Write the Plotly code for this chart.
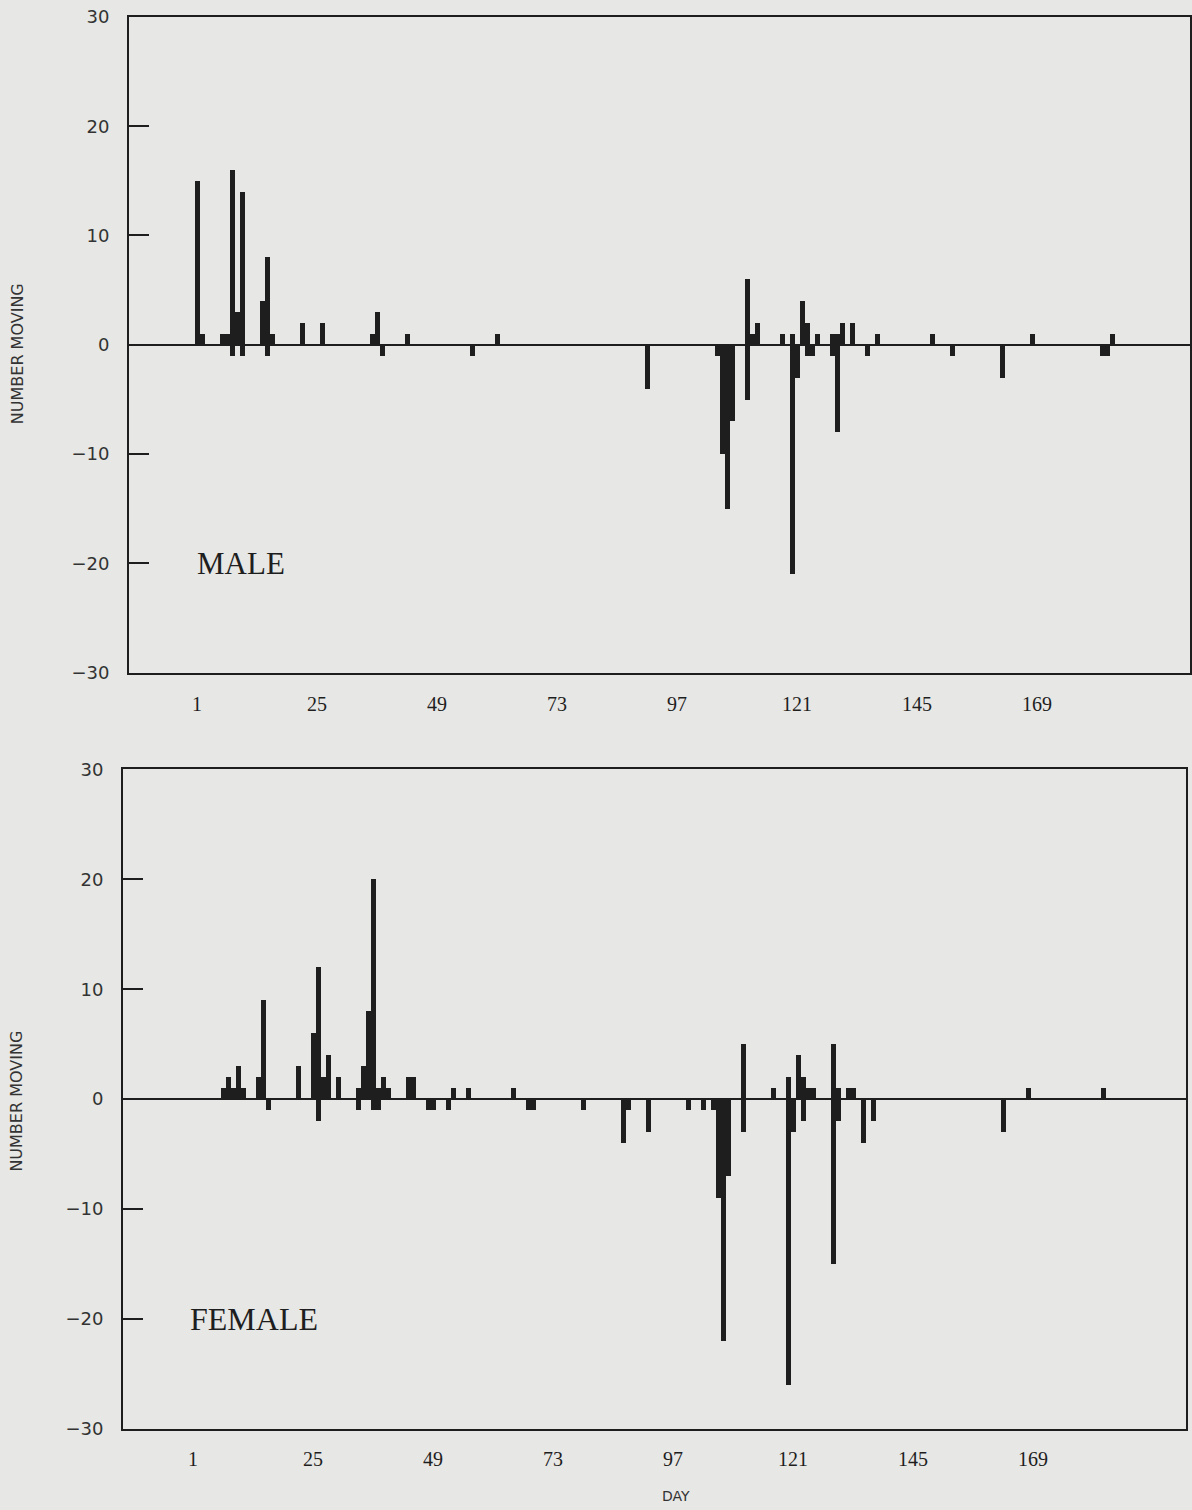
import plotly.graph_objects as go

# ---------------- data ----------------
day_ticks = [1, 25, 49, 73, 97, 121, 145, 169]
day_labels = ["1", "25", "49", "73", "97", "121", "145", "169"]
y_ticks = [-30, -20, -10, 0, 10, 20, 30]

male_pos_days = [1, 2, 6, 7, 8, 9, 10, 14, 15, 16, 22, 26, 36, 37, 43, 61,
                 111, 112, 113, 118, 120, 122, 123, 125, 128, 129, 130, 132,
                 137, 148, 168, 184]
male_pos_vals = [15, 1, 1, 1, 16, 3, 14, 4, 8, 1, 2, 2, 1, 3, 1, 1,
                 6, 1, 2, 1, 1, 4, 2, 1, 1, 1, 2, 2,
                 1, 1, 1, 1]
male_neg_days = [8, 10, 15, 38, 56, 91, 105, 106, 107, 108, 111, 120, 121,
                 123, 124, 128, 129, 135, 152, 162, 182, 183]
male_neg_vals = [-1, -1, -1, -1, -1, -4, -1, -10, -15, -7, -5, -21, -3,
                 -1, -1, -1, -8, -1, -1, -3, -1, -1]

female_pos_days = [7, 8, 9, 10, 11, 14, 15, 22, 25, 26, 27, 28, 30, 34, 35,
                   36, 37, 38, 39, 40, 44, 45, 53, 56, 65, 111, 117, 120,
                   122, 123, 124, 125, 129, 130, 132, 133, 168, 183]
female_pos_vals = [1, 2, 1, 3, 1, 2, 9, 3, 6, 12, 2, 4, 2, 1, 3,
                   8, 20, 1, 2, 1, 2, 2, 1, 1, 1, 5, 1, 2,
                   4, 2, 1, 1, 5, 1, 1, 1, 1, 1]
female_neg_days = [16, 26, 34, 37, 38, 48, 49, 52, 68, 69, 79, 87, 88, 92,
                   100, 103, 105, 106, 107, 108, 111, 120, 121, 123, 129,
                   130, 135, 137, 163]
female_neg_vals = [-1, -2, -1, -1, -1, -1, -1, -1, -1, -1, -1, -4, -1, -3,
                   -1, -1, -1, -9, -22, -7, -3, -26, -3, -2, -15,
                   -2, -4, -2, -3]

# ---------------- styling ----------------
BG = "#e7e7e5"
INK = "#1e1e1e"
W, H = 1192, 1510

fig = go.Figure()

def add_bars(xs, ys, xa, ya):
    fig.add_trace(go.Bar(x=xs, y=ys, width=1, marker=dict(color=INK, line=dict(width=0)),
                         xaxis=xa, yaxis=ya, showlegend=False))

add_bars(male_pos_days, male_pos_vals, "x", "y")
add_bars(male_neg_days, male_neg_vals, "x", "y")
add_bars(female_pos_days, female_pos_vals, "x2", "y2")
add_bars(female_neg_days, female_neg_vals, "x2", "y2")

def xax(standoff):
    return dict(showline=True, mirror=True, linecolor=INK, linewidth=2,
                showgrid=False, zeroline=False, ticks="",
                tickmode="array", tickvals=day_ticks, ticktext=day_labels,
                tickfont=dict(family="Liberation Serif", size=20, color=INK),
                ticklabelstandoff=standoff)

ycommon = dict(showline=True, mirror=True, linecolor=INK, linewidth=2,
               showgrid=False, zeroline=True, zerolinecolor=INK, zerolinewidth=2,
               ticks="inside", ticklen=20, tickwidth=2, tickcolor=INK,
               tickmode="array", tickvals=y_ticks, range=[-30, 30],
               tickfont=dict(family="DejaVu Sans", size=18, color="#333"),
               ticklabelstandoff=14)

# pixel rows of the panel frames (top, bottom)
M_TOP, M_BOT = 6, 671
F_TOP, F_BOT = 769, 1438

fig.update_layout(
    width=W, height=H,
    margin=dict(l=0, r=0, t=0, b=0),
    paper_bgcolor=BG, plot_bgcolor=BG,
    barmode="relative", bargap=0,
    xaxis=dict(domain=[129 / W, 1190 / W], range=[-12.6, 199.6], anchor="y", **xax(12)),
    yaxis=dict(domain=[1 - M_BOT / H, 1 - M_TOP / H], anchor="x", **ycommon),
    xaxis2=dict(domain=[123 / W, 1186 / W], range=[-13, 199.6], anchor="y2", **xax(11)),
    yaxis2=dict(domain=[1 - F_BOT / H, 1 - F_TOP / H], anchor="x2", **ycommon),
)

ann = []
for yc in (1 - 348 / H, 1 - 1106 / H):
    ann.append(dict(text="NUMBER MOVING", x=17 / W, y=yc, xref="paper", yref="paper",
                    textangle=-90, showarrow=False, xanchor="center", yanchor="middle",
                    font=dict(family="DejaVu Sans", size=16, color="#333")))
ann.append(dict(text="MALE", x=(195 - 129) / (1190 - 129), y=-20, xref="x domain", yref="y",
                showarrow=False, xanchor="left", yanchor="middle",
                font=dict(family="Liberation Serif", size=31, color=INK)))
ann.append(dict(text="FEMALE", x=(188 - 123) / (1186 - 123), y=-20, xref="x2 domain", yref="y2",
                showarrow=False, xanchor="left", yanchor="middle",
                font=dict(family="Liberation Serif", size=32, color=INK)))
ann.append(dict(text="DAY", x=676 / W, y=1 - 1506 / H, xref="paper", yref="paper",
                showarrow=False, xanchor="center", yanchor="middle",
                font=dict(family="DejaVu Sans", size=14, color="#333")))
fig.update_layout(annotations=ann)

fig.write_html("out.html")
